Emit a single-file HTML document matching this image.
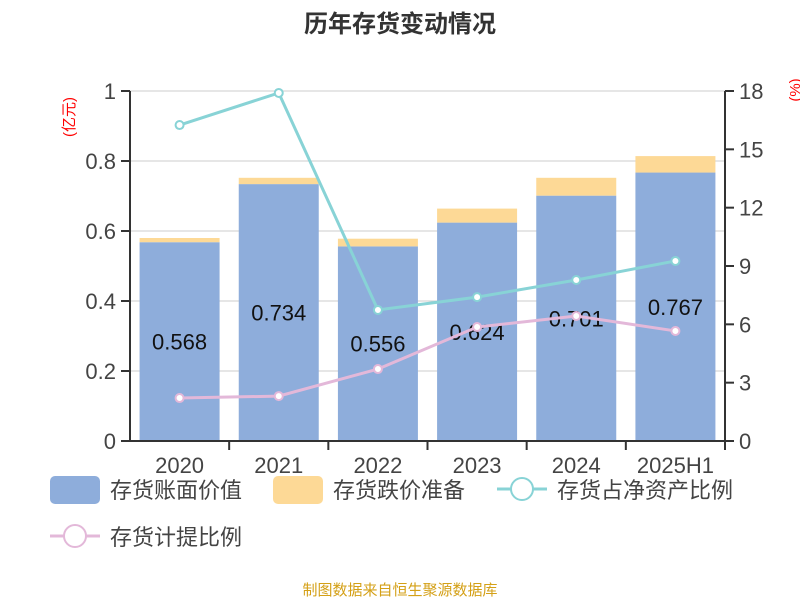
<!DOCTYPE html>
<html><head><meta charset="utf-8"><style>
body{margin:0;background:#fff;font-family:"Liberation Sans","Noto Sans CJK SC",sans-serif;}
svg text{font-family:"Liberation Sans","Noto Sans CJK SC",sans-serif;}
</style></head><body>
<svg id="c" width="800" height="600">
<text x="400" y="32" text-anchor="middle" font-size="24" font-weight="bold" fill="#333">历年存货变动情况</text>
<text transform="translate(74,117) rotate(-90)" text-anchor="middle" font-size="15" fill="#f00">(亿元)</text>
<text transform="translate(800,90) rotate(-90)" text-anchor="middle" font-size="15" fill="#f00">(%)</text>
<g id="grid"></g><g id="bars"></g><g id="axes"></g><g id="lines"></g>
<g>
<rect x="50" y="476" width="50" height="28" rx="5" fill="#8eaddb"/>
<text x="110" y="498" font-size="22" fill="#444">存货账面价值</text>
<rect x="273" y="476" width="50" height="28" rx="5" fill="#fdd996"/>
<text x="333" y="498" font-size="22" fill="#444">存货跌价准备</text>
<line x1="497" y1="489" x2="547" y2="489" stroke="#88d3d6" stroke-width="3"/>
<circle cx="522" cy="489" r="11" fill="#fff" stroke="#88d3d6" stroke-width="2"/>
<text x="557" y="498" font-size="22" fill="#444">存货占净资产比例</text>
<line x1="50" y1="536" x2="100" y2="536" stroke="#e3b8d9" stroke-width="3"/>
<circle cx="75" cy="536" r="11" fill="#fff" stroke="#e3b8d9" stroke-width="2"/>
<text x="110" y="545" font-size="22" fill="#444">存货计提比例</text>
</g>
<text x="400" y="595" text-anchor="middle" font-size="15" fill="#d4a017">制图数据来自恒生聚源数据库</text>
</svg>
<script>
const categories=["2020","2021","2022","2023","2024","2025H1"];
const bookValue=[0.568,0.734,0.556,0.624,0.701,0.767];
const provision=[0.012,0.018,0.022,0.040,0.051,0.047];
const netAssetRatio=[16.25,17.9,6.74,7.4,8.28,9.26];
const provisionRatio=[2.21,2.31,3.7,5.86,6.43,5.66];
const leftTicks=[0,0.2,0.4,0.6,0.8,1];
const leftTickLabels=["0","0.2","0.4","0.6","0.8","1"];
const rightTicks=[0,3,6,9,12,15,18];
const X0=130,X1=725,Y0=441,Y1=91,NS="http://www.w3.org/2000/svg";
const band=(X1-X0)/categories.length;
const xc=i=>X0+band*(i+0.5);
const yl=v=>Y0-(v/1)*(Y0-Y1);
const yr=v=>Y0-(v/18)*(Y0-Y1);
function mk(p,t,a){const e=document.createElementNS(NS,t);for(const k in a)e.setAttribute(k,a[k]);document.getElementById(p).appendChild(e);return e;}
leftTicks.forEach((t,i)=>{
 const g=mk('grid','line',{x1:X0,x2:X1,y1:yl(t),y2:yl(t),stroke:'#ccc','stroke-width':1});
 
 
 mk('axes','line',{x1:X0-9,x2:X0,y1:yl(t),y2:yl(t),stroke:'#333','stroke-width':2});
 const tx=mk('axes','text',{x:X0-14,y:yl(t)+8,'text-anchor':'end','font-size':22,fill:'#444'});
 tx.textContent=leftTickLabels[i];
 
 
});
rightTicks.forEach(t=>{
 mk('axes','line',{x1:X1,x2:X1+9,y1:yr(t),y2:yr(t),stroke:'#333','stroke-width':2});
 const tx=mk('axes','text',{x:X1+14,y:yr(t)+8,'font-size':22,fill:'#444'});
 tx.textContent=t;
 
 
});
mk('axes','line',{x1:X0,x2:X0,y1:Y1,y2:Y0,stroke:'#333','stroke-width':2});
mk('axes','line',{x1:X1,x2:X1,y1:Y1,y2:Y0,stroke:'#333','stroke-width':2});
mk('axes','line',{x1:X0,x2:X1,y1:Y0,y2:Y0,stroke:'#333','stroke-width':2});
const bw=80;
categories.forEach((c,i)=>{
 const b=mk('bars','rect',{x:xc(i)-bw/2,y:yl(bookValue[i]),width:bw,height:Y0-yl(bookValue[i]),fill:'#8eaddb'});
 
 
 const p=mk('bars','rect',{x:xc(i)-bw/2,y:yl(bookValue[i]+provision[i]),width:bw,height:yl(bookValue[i])-yl(bookValue[i]+provision[i]),fill:'#fdd996'});
 
 
 const l=mk('bars','text',{x:xc(i),y:(yl(bookValue[i])+Y0)/2+8,'text-anchor':'middle','font-size':22,fill:'#111'});
 l.textContent=bookValue[i].toFixed(3);
 
 
 mk('axes','line',{x1:X0+band*(i+1),x2:X0+band*(i+1),y1:Y0,y2:Y0+9,stroke:'#333','stroke-width':2});
 const ct=mk('axes','text',{x:xc(i),y:Y0+32,'text-anchor':'middle','font-size':22,fill:'#444'});
 ct.textContent=c;
 
 
});
function series(vals,col,name){
 const pl=mk('lines','polyline',{points:vals.map((v,i)=>xc(i)+','+yr(v)).join(' '),fill:'none',stroke:col,'stroke-width':3});
 
 
 vals.forEach((v,i)=>{
  const ci=mk('lines','circle',{cx:xc(i),cy:yr(v),r:4,fill:'#fff',stroke:col,'stroke-width':2});
  
  
 });
}
series(netAssetRatio,'#88d3d6','net-asset-ratio');
series(provisionRatio,'#e3b8d9','provision-ratio');
</script>
</body></html>
